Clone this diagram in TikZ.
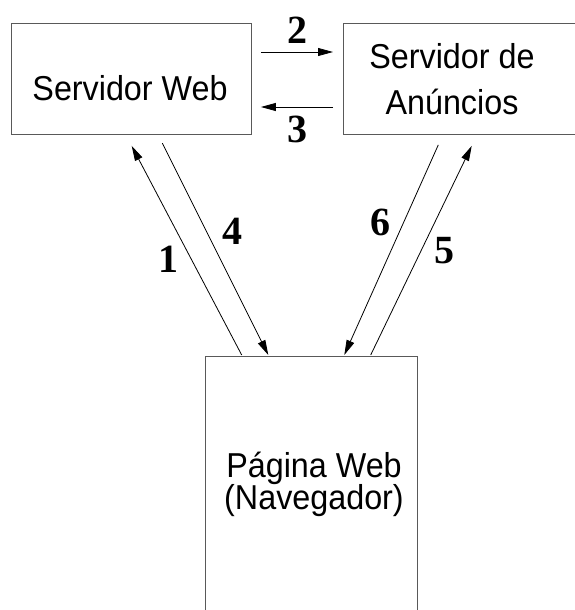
\documentclass[tikz,border=0pt]{standalone}
\usepackage{fontspec}
\setmainfont{Liberation Sans}
\newfontfamily\stepfont{Liberation Serif}
\usetikzlibrary{arrows.meta,calc}
% box captions are set slightly taller than wide
\newcommand{\tallcaption}[1]{\scalebox{1}[1.07]{#1}}
\begin{document}
\begin{tikzpicture}[x=1pt,y=-1pt,
  box/.style={draw=black!65, line width=0.9pt, inner sep=0pt, anchor=north west},
  boxtext/.style={font=\fontsize{32.3}{38}\selectfont, inner sep=0pt, anchor=base},
  stepnum/.style={font=\stepfont\bfseries\fontsize{40}{40}\selectfont, inner sep=0pt},
  flow/.style={line width=0.8pt, -{Triangle[length=15pt,width=8pt]}}
]
\useasboundingbox (0,0) rectangle (575,610);

% the three components
\node[box, minimum width=240.3pt, minimum height=110.5pt] (web) at (10.5,23.5) {};
\node[box, minimum width=260pt, minimum height=110.5pt] (ads) at (342.7,23.5) {};
\node[box, minimum width=212.3pt, minimum height=280pt] (page) at (205,356) {};

\node[boxtext] (webtext) at (130,100) {\tallcaption{Servidor Web}};
\node[boxtext] (adtext1) at (452,69) {\tallcaption{Servidor de}};
\node[boxtext] (adtext2) at (452,114) {\tallcaption{Anúncios}};
\node[boxtext] (pagetext1) at (314,477) {\tallcaption{Página Web}};
\node[boxtext] (pagetext2) at (314,509) {\tallcaption{(Navegador)}};

% request / response flow
\draw[flow] ($(page.north west)+(36.7,-1)$) -- ($(web.south west)+(121.2,11)$);
\draw[flow] ($(web.north east)+(9.2,28.5)$) -- ($(ads.north west)+(-9.7,28.5)$);
\draw[flow] ($(ads.north west)+(-9.7,83.5)$) -- ($(web.north east)+(9.2,83.5)$);
\draw[flow] ($(web.south west)+(151.8,8.3)$) -- ($(page.north west)+(63.3,-1)$);
\draw[flow] ($(page.north west)+(165.7,-1)$) -- ($(ads.south west)+(129,11)$);
\draw[flow] ($(ads.south west)+(95.6,10)$) -- ($(page.north west)+(139.3,-1)$);

% step numbers
\node[stepnum] (n1) at (168.5,259) {1};
\node[stepnum] (n2) at (297,30) {2};
\node[stepnum] (n3) at (297,129) {3};
\node[stepnum] (n4) at (232,231) {4};
\node[stepnum] (n5) at (444,251) {5};
\node[stepnum] (n6) at (380,222) {6};
\end{tikzpicture}
\end{document}
